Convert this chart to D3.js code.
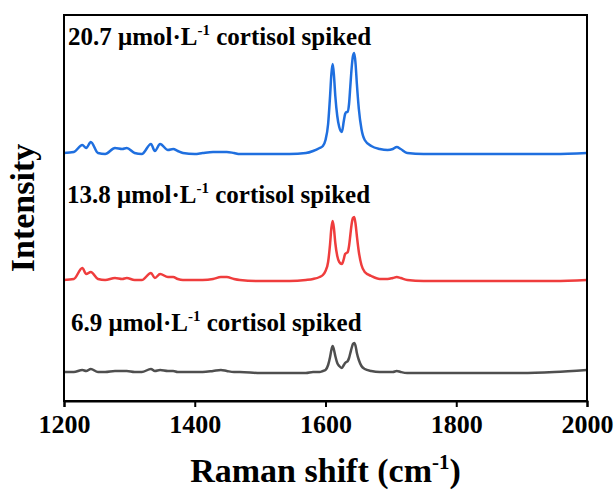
<!DOCTYPE html>
<html>
<head>
<meta charset="utf-8">
<script src="https://cdn.jsdelivr.net/npm/d3@7"></script>
<style>
  body { margin: 0; background: #fff; }
  text { font-family: "Liberation Serif", "Times New Roman", serif; font-weight: bold; }
</style>
</head>
<body>
<div id="chart"></div>
<script>
// Raman shift grid (cm-1)
const shifts = [1200,1215,1228,1234,1241,1252,1263,1278,1289,1296,1308,1319,1333,1339,1347,1359,1367,1374,1382,1400,1412,1428,1440,1449,1460,1469,1500,1545,1570,1581,1591,
  1596,1600,1604,1607,1609,1611,1613,1615,1618,1621,1625,1628,1630,1632,1634,1636,1638,1640,1642,1644,1646,1648,1651,1655,1660,1670,1683,
  1695,1703,1709,1715,1725,1750,1800,1850,1900,1950,2000];

// intensities (a.u.) above each spectrum's own baseline
const blueValues = [1,2,9,6,12,1,0,6,5,6,1,0,10,3,10,4,5,3,1,0,1,2,2,2,1,0,0,0,1,3,6,
  8,14,30,58,80,90,78,58,38,27,22,33,40,42,42,50,68,86,98,101,90,70,45,25,14,8,5,
  4,5,7,5,1,0,0,0,0,0,1];
const redValues = [1,2,13,7,9,2,1,3,2,3,1,1,8,3,7,4,4,2,1,1,1,2,4,4,2,1,0,0,1,2,4,
  6,10,19,37,53,60,52,38,25,19,17,22,27,28,29,35,46,57,63,64,57,45,29,16,9,5,2,
  2,3,4,3,1,0,0,0,0,0,1];
const grayValues = [1,1,3,2,4,1,1,2,2,2,1,1,4,2,3,2,2,1,1,1,1,2,3,2,1,1,0,0,0,1,1,
  2,3,8,16,23,27,23,17,10,7,5,8,10,11,12,15,20,25,29,30,27,20,13,7,4,2,1,
  1,1,2,1,0,0,0,0,0,1,3];

const seriesLabels = ['20.7', '13.8', '6.9'];
const seriesOffsets = [247, 120, 28];
const seriesColors = ['#1f6fdf', '#ef3d3d', '#4f4f4f'];
const xTicks = [1200, 1400, 1600, 1800, 2000];

const width = 616, height = 493;
const marginLeft = 64, marginRight = 29, marginTop = 15, marginBottom = 92;

const svg = d3.select('#chart').append('svg')
  .attr('width', width)
  .attr('height', height);

const x = d3.scaleLinear().domain([1200, 2000]).range([marginLeft, width - marginRight]);
const y = d3.scaleLinear().domain([0, 386]).range([height - marginBottom, marginTop]);

const allSeries = [blueValues, redValues, grayValues];

const line = d3.line()
  .x(d => x(d[0]))
  .y(d => y(d[1]))
  .curve(d3.curveMonotoneX);

allSeries.forEach((vals, i) => {
  const pts = shifts.map((s, j) => [s, vals[j] + seriesOffsets[i]]);
  svg.append('path')
    .datum(pts)
    .attr('fill', 'none')
    .attr('stroke', seriesColors[i])
    .attr('stroke-width', 2.5)
    .attr('stroke-linejoin', 'round')
    .attr('d', line);
});

// frame
svg.append('rect')
  .attr('x', marginLeft)
  .attr('y', marginTop)
  .attr('width', width - marginRight - marginLeft)
  .attr('height', height - marginBottom - marginTop)
  .attr('fill', 'none')
  .attr('stroke', '#000')
  .attr('stroke-width', 2);

// x axis
const xAxis = svg.append('g')
  .attr('transform', `translate(0,${height - marginBottom})`)
  .call(d3.axisBottom(x).tickValues(xTicks).tickSize(6).tickPadding(8).tickFormat(d3.format('d')));
xAxis.select('.domain').attr('stroke-width', 2);
xAxis.selectAll('.tick line').attr('stroke-width', 2);
xAxis.selectAll('.tick text')
  .attr('font-size', 26)
  .attr('font-family', '"Liberation Serif", serif')
  .attr('font-weight', 'bold')
  .attr('fill', '#000');

// axis titles
const xt = svg.append('text')
  .attr('x', (marginLeft + width - marginRight) / 2)
  .attr('y', 482)
  .attr('text-anchor', 'middle')
  .attr('font-size', 34);
xt.append('tspan').text('Raman shift (cm');
xt.append('tspan').attr('dy', -13).attr('font-size', 21).text('-1');
xt.append('tspan').attr('dy', 13).text(')');

svg.append('text')
  .attr('transform', `translate(34,${(marginTop + height - marginBottom) / 2}) rotate(-90)`)
  .attr('text-anchor', 'middle')
  .attr('font-size', 34)
  .text('Intensity');

// spectrum labels
const labelPos = [[68, 45], [67, 203], [71, 331]];
seriesLabels.forEach((c, i) => {
  const t = svg.append('text')
    .attr('x', labelPos[i][0])
    .attr('y', labelPos[i][1])
    .attr('font-size', 25);
  t.append('tspan').text(c + ' \u03bcmol\u00b7L');
  t.append('tspan').attr('dy', -10).attr('font-size', 15).text('-1');
  t.append('tspan').attr('dy', 10).text(' cortisol spiked');
});
</script>
</body>
</html>
